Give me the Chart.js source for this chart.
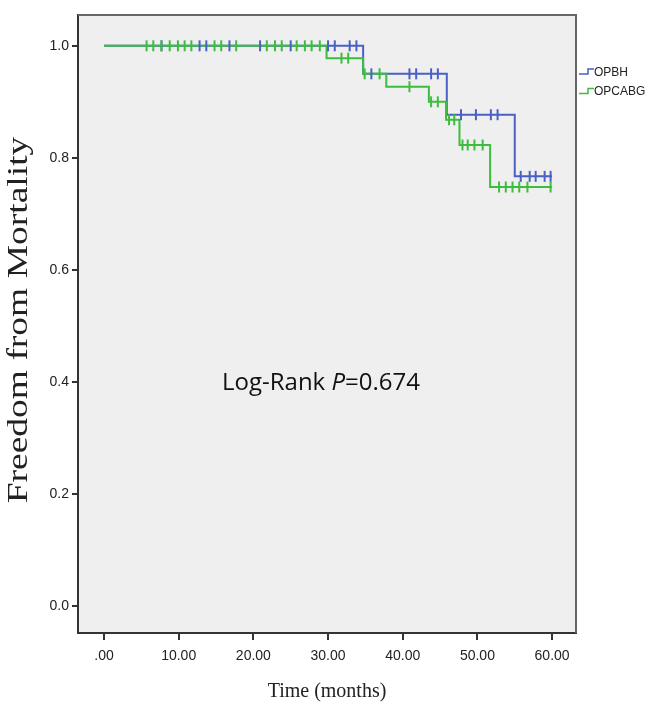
<!DOCTYPE html>
<html>
<head>
<meta charset="utf-8">
<script src="https://cdn.jsdelivr.net/npm/chart.js@4/dist/chart.umd.min.js"></script>
<style>
  html, body { margin: 0; padding: 0; background: #fff; }
  #wrap { width: 661px; height: 706px; }
</style>
</head>
<body>
<div id="wrap"><canvas id="kmChart" width="661" height="706"></canvas></div>
<script>
// 坐标轴刻度
const timeTicks = [0, 10, 20, 30, 40, 50, 60];
const survTicks = [0, 0.2, 0.4, 0.6, 0.8, 1.0];

// OPBH 生存曲线（阶梯）
const opbhTimes = [0, 34.7, 45.9, 55.0, 60];
const opbhSurv = [1.0, 0.95, 0.877, 0.767, 0.767];

// OPCABG 生存曲线（阶梯）
const opcabgTimes = [0, 29.8, 34.7, 37.8, 43.5, 45.8, 47.6, 51.7, 60];
const opcabgSurv = [1.0, 0.978, 0.95, 0.927, 0.9, 0.868, 0.823, 0.748, 0.748];

// 删失点
const opbhCensorTimes = [7.7, 12.8, 13.7, 16.8, 20.9, 25.0, 30.0, 30.9, 32.9, 33.8,
  35.8, 40.9, 41.8, 43.8, 44.7,
  47.8, 49.8, 51.8, 52.7,
  55.8, 57.0, 57.8, 59.0, 59.8];
const opbhCensorSurv = [1, 1, 1, 1, 1, 1, 1, 1, 1, 1,
  0.95, 0.95, 0.95, 0.95, 0.95,
  0.877, 0.877, 0.877, 0.877,
  0.767, 0.767, 0.767, 0.767, 0.767];

const opcabgCensorTimes = [5.7, 6.6, 7.7, 8.8, 9.9, 10.8, 11.7, 14.8, 15.7, 17.7, 21.8, 22.9, 23.8, 25.8, 26.9, 27.8, 28.9,
  31.8, 32.7,
  34.9, 36.9,
  40.9,
  43.8, 44.7,
  46.2, 46.9,
  48.0, 48.7, 49.6, 50.7,
  52.9, 53.8, 54.7, 55.6, 56.7, 59.8];
const opcabgCensorSurv = [1, 1, 1, 1, 1, 1, 1, 1, 1, 1, 1, 1, 1, 1, 1, 1, 1,
  0.978, 0.978,
  0.95, 0.95,
  0.927,
  0.9, 0.9,
  0.868, 0.868,
  0.823, 0.823, 0.823, 0.823,
  0.748, 0.748, 0.748, 0.748, 0.748, 0.748];

const seriesNames = ['OPBH', 'OPCABG'];
const blue = '#4a60c4';
const green = '#3dbd3d';

function toPoints(xs, ys) {
  return xs.map((x, i) => ({ x: x, y: ys[i] }));
}

// 背景、外框、图例、标注
const decorPlugin = {
  id: 'decor',
  beforeDraw(chart) {
    const { ctx, chartArea: a } = chart;
    ctx.save();
    ctx.fillStyle = '#fff';
    ctx.fillRect(0, 0, chart.width, chart.height);
    ctx.fillStyle = '#efefef';
    ctx.fillRect(a.left, a.top, a.right - a.left, a.bottom - a.top);
    ctx.restore();
  },
  afterDraw(chart) {
    const { ctx, chartArea: a } = chart;
    ctx.save();
    // 上、右边框
    ctx.strokeStyle = '#666';
    ctx.lineWidth = 2;
    ctx.beginPath();
    ctx.moveTo(a.left, a.top);
    ctx.lineTo(a.right, a.top);
    ctx.lineTo(a.right, a.bottom);
    ctx.stroke();

    // 图例
    const cols = [blue, green];
    ctx.font = '12px "Liberation Sans", Arial, sans-serif';
    ctx.textBaseline = 'middle';
    ctx.textAlign = 'left';
    seriesNames.forEach((name, i) => {
      const y = 74 + i * 19.5;
      ctx.strokeStyle = cols[i];
      ctx.lineWidth = 1.5;
      ctx.beginPath();
      ctx.moveTo(579, y);
      ctx.lineTo(588, y);
      ctx.lineTo(588, y - 5);
      ctx.lineTo(594, y - 5);
      ctx.stroke();
      ctx.fillStyle = '#222';
      ctx.fillText(name, 594, y - 1.5);
    });

    // Log-Rank 标注
    const p1 = 'Log-Rank ', p2 = 'P', p3 = '=0.674';
    const reg = '24px "Open Sans", "Noto Sans", sans-serif';
    const ita = 'italic 24px "Open Sans", "Noto Sans", sans-serif';
    ctx.font = reg; const w1 = ctx.measureText(p1).width; const w3 = ctx.measureText(p3).width;
    ctx.font = ita; const w2 = ctx.measureText(p2).width;
    let x = 321 - (w1 + w2 + w3) / 2;
    const ty = 383;
    ctx.fillStyle = '#111';
    ctx.font = reg; ctx.fillText(p1, x, ty); x += w1;
    ctx.font = ita; ctx.fillText(p2, x, ty); x += w2;
    ctx.font = reg; ctx.fillText(p3, x, ty);

    // 纵轴标题
    ctx.translate(19, 320);
    ctx.rotate(-Math.PI / 2);
    ctx.scale(1.25, 1);
    ctx.font = '30px "Liberation Serif", "Times New Roman", serif';
    ctx.textAlign = 'center';
    ctx.fillStyle = '#222';
    ctx.fillText('Freedom from Mortality', 0, 0);
    ctx.restore();
  }
};

const ctx = document.getElementById('kmChart').getContext('2d');
new Chart(ctx, {
  type: 'line',
  data: {
    datasets: [
      { label: seriesNames[0], data: toPoints(opbhTimes, opbhSurv), borderColor: blue, borderWidth: 2, stepped: 'before', pointRadius: 0, fill: false, order: 4 },
      { label: seriesNames[1], data: toPoints(opcabgTimes, opcabgSurv), borderColor: green, borderWidth: 2, stepped: 'before', pointRadius: 0, fill: false, order: 3 },
      { label: seriesNames[0] + ' censored', data: toPoints(opbhCensorTimes, opbhCensorSurv), showLine: false, pointStyle: 'line', rotation: 90, pointRadius: 5.5, pointBorderWidth: 2, pointBorderColor: blue, borderColor: blue, order: 2 },
      { label: seriesNames[1] + ' censored', data: toPoints(opcabgCensorTimes, opcabgCensorSurv), showLine: false, pointStyle: 'line', rotation: 90, pointRadius: 5.5, pointBorderWidth: 2, pointBorderColor: green, borderColor: green, order: 1 }
    ]
  },
  options: {
    responsive: false,
    animation: false,
    devicePixelRatio: 1,
    layout: { padding: { left: 0, top: 15, right: 85, bottom: 0 } },
    plugins: { legend: { display: false }, tooltip: { enabled: false } },
    scales: {
      x: {
        type: 'linear',
        min: -3.48,
        max: 63.2,
        afterBuildTicks: s => { s.ticks = timeTicks.map(v => ({ value: v })); },
        afterFit: s => { s.height = 73; },
        grid: { drawOnChartArea: false, drawTicks: true, tickLength: 7, color: '#333', lineWidth: 2 },
        border: { color: '#333', width: 2 },
        ticks: {
          padding: 8,
          color: '#222',
          font: { family: '"Liberation Sans", Arial, sans-serif', size: 14 },
          callback: v => v === 0 ? '.00' : v.toFixed(2)
        },
        title: {
          display: true,
          text: 'Time (months)',
          color: '#222',
          font: { family: '"Liberation Serif", "Times New Roman", serif', size: 20 },
          padding: { top: 0, bottom: 2 }
        }
      },
      y: {
        min: -0.048,
        max: 1.055,
        afterBuildTicks: s => { s.ticks = survTicks.map(v => ({ value: v })); },
        afterFit: s => { s.width = 78; },
        grid: { drawOnChartArea: false, drawTicks: true, tickLength: 6, color: '#333', lineWidth: 2 },
        border: { color: '#333', width: 2 },
        ticks: {
          padding: 3,
          color: '#222',
          font: { family: '"Liberation Sans", Arial, sans-serif', size: 14 },
          callback: v => v.toFixed(1)
        }
      }
    }
  },
  plugins: [decorPlugin]
});
</script>
</body>
</html>
